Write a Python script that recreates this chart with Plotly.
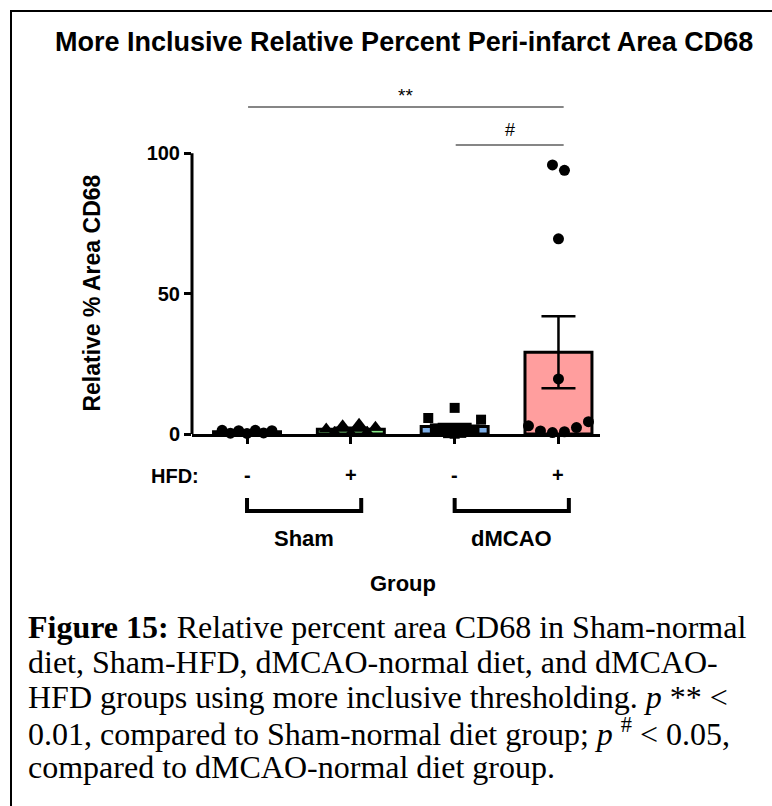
import numpy as np
import plotly.graph_objects as go

# ---------------- data ----------------
groups = ["Sham-normal diet", "Sham-HFD", "dMCAO-normal diet", "dMCAO-HFD"]
hfd_labels = ["-", "+", "-", "+"]
surgery_labels = ["Sham", "dMCAO"]
surgery_spans = [(0, 1), (2, 3)]
# individual animals, listed left to right as they appear inside each point cluster
sham_normal = [1.3, 0.3, 1.2, 0.2, 1.3, 0.4, 1.2]
sham_hfd = [1.8, 0.5, 2.9, 0.2, 3.5, 0.6, 2.4]
dmcao_normal = [5.7, 2.0, 1.0, 0.3, 0.1, 9.3, 0.4, 0.8, 1.6, 5.1]
dmcao_hfd = [95.8, 93.9, 69.5, 19.6, 2.9, 1.1, 0.5, 0.8, 2.3, 4.4]
y_ticks = [0, 50, 100]
comparisons = [(0, 3, "**"), (2, 3, "#")]

title_text = "More Inclusive Relative Percent Peri-infarct Area CD68"
y_title = "Relative % Area CD68"
x_title = "Group"
caption_lines = [
    "<b>Figure 15:</b> Relative percent area CD68 in Sham-normal",
    "diet, Sham-HFD, dMCAO-normal diet, and dMCAO-",
    "HFD groups using more inclusive thresholding. <i>p</i> ** &lt;",
    "0.01, compared to Sham-normal diet group; <i>p</i> <sup>#</sup> &lt; 0.05,",
    "compared to dMCAO-normal diet group.",
]

# ---------------- style ----------------
W, H = 772, 806
L, R, T, B = 192, 172, 97, 372
XR = [-0.53, 3.40]
YR = [0, 120]
bar_colors = ["#FFFFFF", "#86E886", "#7DAEE8", "#FF9E9E"]
symbols = ["circle", "triangle-up", "square", "circle"]
marker_sizes = [11, 13, 10, 11]
spread_px = [8.3, 8.2, 6.6, 12.0]
SANS = "Liberation Sans"
SERIF = "Liberation Serif"

plot_w = W - L - R
plot_h = H - T - B
px_per_x = plot_w / (XR[1] - XR[0])
px_per_y = plot_h / (YR[1] - YR[0])


def xp(x):
    return (x - XR[0]) / (XR[1] - XR[0])


def yp(y):
    return (y - YR[0]) / (YR[1] - YR[0])


def pxp(px):
    return (px - L) / plot_w


def pyp(py):
    return (H - B - py) / plot_h


def swarm_offsets(vals, spacing_px, thresh_px=9.0):
    vals = np.asarray(vals, float)
    order = np.argsort(vals)
    clusters = []
    cur = [order[0]]
    for a, b in zip(order[:-1], order[1:]):
        if (vals[b] - vals[a]) * px_per_y > thresh_px:
            clusters.append(cur)
            cur = [b]
        else:
            cur.append(b)
    clusters.append(cur)
    off = np.zeros(len(vals))
    for c in clusters:
        c = sorted(c)
        n = len(c)
        for k, idx in enumerate(c):
            off[idx] = (k - (n - 1) / 2) * spacing_px / px_per_x
    return off


data = [sham_normal, sham_hfd, dmcao_normal, dmcao_hfd]
means = [float(np.mean(d)) for d in data]
sems = [float(np.std(d, ddof=1) / np.sqrt(len(d))) for d in data]
xs = list(range(len(groups)))

fig = go.Figure()
fig.add_trace(go.Bar(
    x=xs, y=means, width=0.645,
    marker=dict(color=bar_colors, line=dict(color="black", width=3)),
    error_y=dict(type="data", array=sems, visible=True, color="black",
                 thickness=2.5, width=17),
    showlegend=False, hoverinfo="skip",
))
for i, d in enumerate(data):
    off = swarm_offsets(d, spread_px[i])
    fig.add_trace(go.Scatter(
        x=i + off, y=d, mode="markers", cliponaxis=False,
        marker=dict(symbol=symbols[i], size=marker_sizes[i], color="black",
                    line=dict(width=0)),
        showlegend=False, hoverinfo="skip",
    ))

shapes = []
annotations = []

# y axis line only from 0 to 100
shapes.append(dict(type="line", xref="paper", yref="paper",
                   x0=0, x1=0, y0=yp(y_ticks[0]), y1=yp(y_ticks[-1]),
                   line=dict(color="black", width=3)))

# significance lines
sig_line_py = [107, 145]
sig_text_py = [95, 130]
sig_sizes = [19, 18]
for (a, b, lab), lpy, tpy, fs in zip(comparisons, sig_line_py, sig_text_py, sig_sizes):
    xa, xb = a + 0.01, b + 0.05
    shapes.append(dict(type="line", xref="paper", yref="paper",
                       x0=xp(xa), x1=xp(xb), y0=pyp(lpy), y1=pyp(lpy),
                       line=dict(color="#5E5E5E", width=1.5)))
    annotations.append(dict(text=lab, xref="paper", yref="paper",
                            x=xp((xa + xb) / 2), y=pyp(tpy), showarrow=False,
                            font=dict(family=SANS, size=fs, color="black"),
                            xanchor="center", yanchor="middle"))

# HFD row
annotations.append(dict(text="HFD:", xref="paper", yref="paper", x=pxp(175), y=pyp(476),
                        showarrow=False, xanchor="center", yanchor="middle",
                        font=dict(family=SANS, size=20, color="black", weight="bold")))
for i, lab in enumerate(hfd_labels):
    annotations.append(dict(text=lab, xref="paper", yref="paper", x=xp(i), y=pyp(475),
                            showarrow=False, xanchor="center", yanchor="middle",
                            font=dict(family=SANS, size=20, color="black", weight="bold")))

# surgery brackets
for (a, b), lab in zip(surgery_spans, surgery_labels):
    x0, x1 = xp(a), xp(b + 0.1)
    yt, yb = pyp(498), pyp(511)
    shapes.append(dict(type="path", xref="paper", yref="paper",
                       path=f"M{x0},{yt} L{x0},{yb} L{x1},{yb} L{x1},{yt}",
                       line=dict(color="black", width=4)))
    annotations.append(dict(text=lab, xref="paper", yref="paper", x=(x0 + x1) / 2, y=pyp(538),
                            showarrow=False, xanchor="center", yanchor="middle",
                            font=dict(family=SANS, size=22, color="black", weight="bold")))

annotations.append(dict(text=x_title, xref="paper", yref="paper", x=pxp(403), y=pyp(583),
                        showarrow=False, xanchor="center", yanchor="middle",
                        font=dict(family=SANS, size=22, color="black", weight="bold")))
annotations.append(dict(text=y_title, xref="paper", yref="paper", x=pxp(92), y=yp(50),
                        showarrow=False, xanchor="center", yanchor="middle", textangle=-90,
                        font=dict(family=SANS, size=23, color="black", weight="bold")))
annotations.append(dict(text=title_text, xref="paper", yref="paper", x=pxp(404), y=pyp(42),
                        showarrow=False, xanchor="center", yanchor="middle",
                        font=dict(family=SANS, size=27, color="black", weight="bold")))

cap_py = [627, 662, 697, 732, 767]
for line, py in zip(caption_lines, cap_py):
    annotations.append(dict(text=line, xref="paper", yref="paper", x=pxp(26), y=pyp(py),
                            showarrow=False, xanchor="left", yanchor="middle",
                            font=dict(family=SERIF, size=32, color="black")))

# outer frame (top and left edges visible)
shapes.append(dict(type="line", xref="paper", yref="paper",
                   x0=pxp(10), x1=pxp(W + 20), y0=pyp(11), y1=pyp(11),
                   line=dict(color="black", width=2)))
shapes.append(dict(type="line", xref="paper", yref="paper",
                   x0=pxp(11), x1=pxp(11), y0=pyp(10), y1=pyp(H + 20),
                   line=dict(color="black", width=2)))

fig.update_layout(
    width=W, height=H,
    margin=dict(l=L, r=R, t=T, b=B, pad=0),
    paper_bgcolor="white", plot_bgcolor="white",
    showlegend=False,
    xaxis=dict(range=XR, showgrid=False, zeroline=False, showline=True,
               linecolor="black", linewidth=3, ticks="outside", ticklen=7,
               tickwidth=3, tickcolor="black", tickvals=xs, showticklabels=False),
    yaxis=dict(range=YR, showgrid=False, zeroline=False, showline=False,
               ticks="outside", ticklen=7, tickwidth=3, tickcolor="black",
               tickvals=y_ticks,
               tickfont=dict(family=SANS, size=20, color="black", weight="bold")),
    shapes=shapes, annotations=annotations,
)

fig.write_html("out.html")
